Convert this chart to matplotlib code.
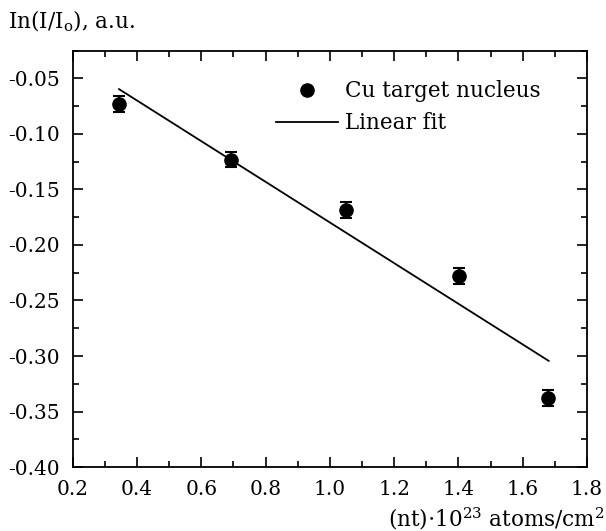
import numpy as np
import matplotlib
matplotlib.use("Agg")
import matplotlib.pyplot as plt
from matplotlib.ticker import MultipleLocator, FormatStrFormatter
from matplotlib.lines import Line2D

plt.rcParams["font.family"] = ["DejaVu Serif"]
plt.rcParams["mathtext.fontset"] = "dejavuserif"

# measured points (Cu target)
nt = [0.345, 0.693, 1.051, 1.403, 1.678]
ln_ratio = [-0.0734, -0.123, -0.1689, -0.228, -0.338]
err = [0.0072, 0.0072, 0.0072, 0.0072, 0.0072]

# linear fit end points
fit_x = [0.344, 1.681]
fit_y = [-0.0596, -0.3044]

fig = plt.figure(figsize=(6.06, 5.31), dpi=100)
ax = fig.add_axes([0.12, 0.1205, 0.8486, 0.784])

ax.errorbar(nt, ln_ratio, yerr=err, fmt="o", color="black", markersize=9.5,
            elinewidth=1.5, capsize=4, capthick=1.5)
ax.plot(fit_x, fit_y, color="black", lw=1.3)

ax.set_xlim(0.2, 1.8)
ax.set_ylim(-0.40, -0.025)
ax.xaxis.set_major_locator(MultipleLocator(0.2))
ax.xaxis.set_minor_locator(MultipleLocator(0.1))
ax.yaxis.set_major_locator(MultipleLocator(0.05))
ax.yaxis.set_minor_locator(MultipleLocator(0.025))
ax.xaxis.set_major_formatter(FormatStrFormatter("%.1f"))
ax.yaxis.set_major_formatter(FormatStrFormatter("%.2f"))

ax.tick_params(which="both", direction="in", top=True, right=True,
               labelsize=14.5, width=1.2)
ax.tick_params(axis="x", pad=9)
ax.tick_params(axis="y", pad=9)
ax.tick_params(which="major", length=7)
ax.tick_params(which="minor", length=4)
for s in ax.spines.values():
    s.set_linewidth(1.3)

fig.text(0.013, 0.947, r"In(I/I$_\mathrm{o}$), a.u.", fontsize=15.5,
         ha="left", va="baseline")
fig.text(0.998, 0.008, r"(nt)$\cdot$10$^{23}$ atoms/cm$^2$", fontsize=15.5,
         ha="right", va="baseline")

handles = [Line2D([], [], marker="o", ls="none", color="black", markersize=9.5),
           Line2D([], [], color="black", lw=1.3)]
ax.legend(handles, ["Cu target nucleus", "Linear fit"], loc="upper left",
          bbox_to_anchor=(0.378, 0.95), frameon=False, fontsize=15.5,
          handlelength=2.9, handletextpad=0.3, labelspacing=0.48,
          borderaxespad=0)

fig.savefig("out.png", dpi=100)
